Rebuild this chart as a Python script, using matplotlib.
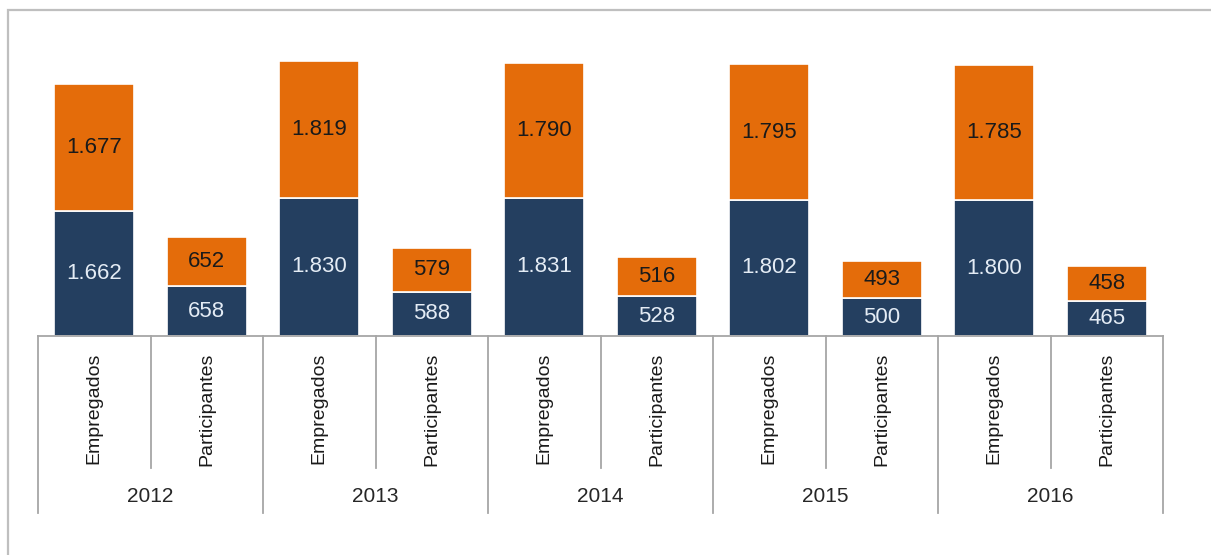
import matplotlib.pyplot as plt
from matplotlib.patches import Rectangle
from matplotlib.lines import Line2D
import matplotlib.transforms as mtransforms

plt.rcParams['font.family'] = ['Liberation Sans Narrow', 'Liberation Sans', 'DejaVu Sans']

years = ['2012', '2013', '2014', '2015', '2016']
groups = ['Empregados', 'Participantes']
# bottom (navy) and top (orange) segments, order: Emp 2012, Part 2012, Emp 2013, ...
navy_vals = [1662, 658, 1830, 588, 1831, 528, 1802, 500, 1800, 465]
orange_vals = [1677, 652, 1819, 579, 1790, 516, 1795, 493, 1785, 458]
navy_labels = ['1.662', '658', '1.830', '588', '1.831', '528', '1.802', '500', '1.800', '465']
orange_labels = ['1.677', '652', '1.819', '579', '1.790', '516', '1.795', '493', '1.785', '458']

W, H = 1211, 555
fig = plt.figure(figsize=(W / 100, H / 100), dpi=100)

# axes: x from 38px to 1163px, baseline at y=336px
base = 336
ymax = 4000
scale = 0.0755
ax_h = ymax * scale
ax = fig.add_axes([38 / W, (H - base) / H, (1163 - 38) / W, ax_h / H])
ax.set_xlim(-0.5, 9.5)
ax.set_ylim(0, ymax)
ax.axis('off')

navy = '#243F60'
orange = '#E46C0A'
x = list(range(len(navy_vals)))
ax.bar(x, navy_vals, width=0.71, color=navy, edgecolor='white', linewidth=1.2)
ax.bar(x, orange_vals, width=0.71, bottom=navy_vals, color=orange, edgecolor='white', linewidth=1.2)

for i in x:
    ax.text(i, navy_vals[i] / 2, navy_labels[i], ha='center', va='center',
            fontsize=16, color='#E4ECF5')
    ax.text(i, navy_vals[i] + orange_vals[i] / 2, orange_labels[i], ha='center', va='center',
            fontsize=16, color='#1A1A1A')

# category axis drawn below the bars
tr = mtransforms.blended_transform_factory(ax.transData, fig.transFigure)
def fy(py):
    return 1 - py / H

gray = '#A6A6A6'
fig.lines.append(Line2D([38 / W, 1163 / W], [fy(base), fy(base)], transform=fig.transFigure,
                        color=gray, lw=1.3))
for b in [-0.5, 1.5, 3.5, 5.5, 7.5, 9.5]:
    fig.lines.append(Line2D([b, b], [fy(base), fy(513)], transform=tr, color=gray, lw=1.3))
for b in [0.5, 2.5, 4.5, 6.5, 8.5]:
    fig.lines.append(Line2D([b, b], [fy(base), fy(468)], transform=tr, color=gray, lw=1.3))

for i in x:
    fig.text(i, fy(353), groups[i % 2], transform=tr, rotation=90, ha='center', va='top',
             fontsize=14, color='#1A1A1A')
for k, yr in enumerate(years):
    fig.text(2 * k + 0.5, fy(496), yr, transform=tr, ha='center', va='center',
             fontsize=15, color='#262626')

# outer frame (only top and left edges visible)
fig.patches.append(Rectangle((8 / W, -0.1), 1.2, fy(10) + 0.1, transform=fig.transFigure,
                             fill=False, edgecolor='#BFBFBF', lw=1.6))

fig.savefig('out.png', dpi=100)
